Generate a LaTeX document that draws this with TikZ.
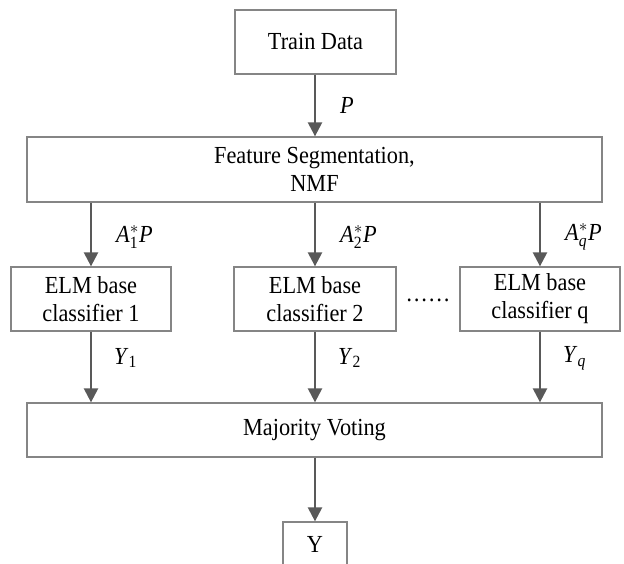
\documentclass[tikz,border=0pt]{standalone}
\usepackage{amsmath}
\usepackage{fontspec}
\setmainfont{Liberation Serif}[FakeStretch=0.91]
\usetikzlibrary{arrows.meta}
\definecolor{boxline}{HTML}{858585}
\definecolor{arrowgray}{HTML}{595959}
\begin{document}
\begin{tikzpicture}[x=1pt,y=-1pt,
  font=\fontsize{24.5}{28}\selectfont,
  stage/.style={draw=boxline, line width=1.3pt, rectangle, align=center, inner sep=0pt},
  flow/.style={draw=arrowgray, line width=2.4pt, -{Triangle[length=14pt,width=14pt]}},
  lbl/.style={anchor=west, inner sep=0pt}]
\useasboundingbox (0,0) rectangle (624,564);

% blocks
\node[stage, minimum width=161pt, minimum height=64pt] (train) at (315.5,42) {Train Data};
\node[stage, minimum width=575pt, minimum height=65pt] (feat) at (314.5,169.5) {Feature Segmentation,\\NMF};
\node[stage, minimum width=160pt, minimum height=64pt] (e1) at (91,299) {ELM base\\classifier 1};
\node[stage, minimum width=162pt, minimum height=64pt] (e2) at (315,299) {ELM base\\classifier 2};
\node[stage, minimum width=160pt, minimum height=64pt] (e3) at (540,299) {ELM base\\classifier q};
\node (dots) at (428,300) {……};
\node[stage, minimum width=575pt, minimum height=54pt] (vote) at (314.5,430) {Majority Voting};
\node[stage, minimum width=64pt, minimum height=44pt] (out) at (315,544) {Y};

% connectors
\draw[flow] (train.south -| out) -- (out |- feat.north);
\draw[flow] (e1 |- feat.south) -- (e1.north);
\draw[flow] (e2 |- feat.south) -- (e2.north);
\draw[flow] (e3 |- feat.south) -- (e3.north);
\draw[flow] (e1.south) -- (e1 |- vote.north);
\draw[flow] (e2.south) -- (e2 |- vote.north);
\draw[flow] (e3.south) -- (e3 |- vote.north);
\draw[flow] (vote.south -| out) -- (out.north);

% labels
\node[lbl] (lp) at (340,105) {\textit{P}};
\node[lbl] (la1) at (116,237) {\textit{A}$_{\textrm{1}}^{*}$\textit{P}};
\node[lbl] (la2) at (340,237) {\textit{A}$_{\textrm{2}}^{*}$\textit{P}};
\node[lbl] (la3) at (565,237) {\textit{A}$_{\textit{q}}^{*}$\textit{P}};
\node[lbl] (ly1) at (114,358) {\textit{Y}$_{\textrm{1}}$};
\node[lbl] (ly2) at (338,358) {\textit{Y}$_{\textrm{2}}$};
\node[lbl] (ly3) at (563,358) {\textit{Y}$_{\textit{q}}$};
\end{tikzpicture}
\end{document}
